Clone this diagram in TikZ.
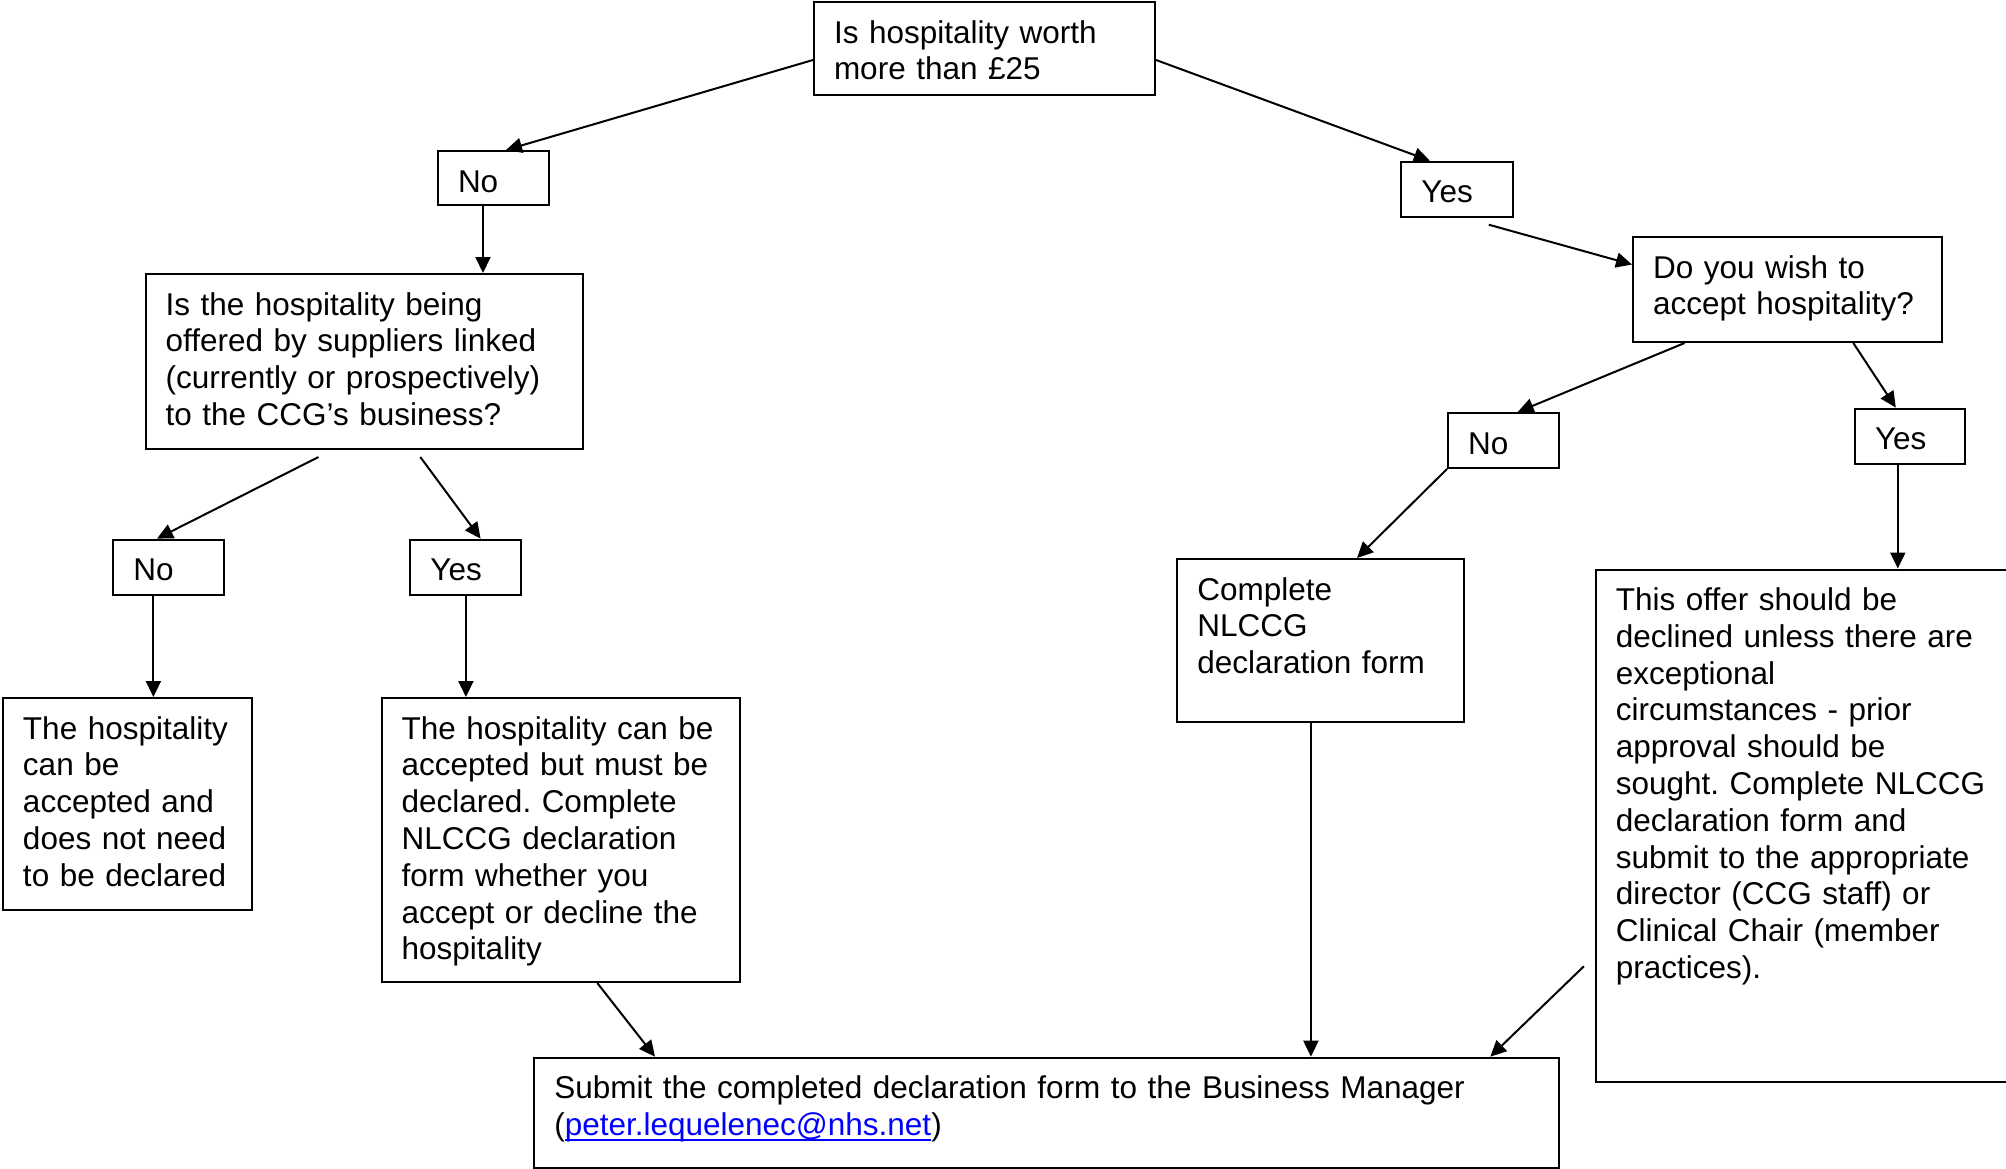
\documentclass[tikz,border=0pt]{standalone}
\usepackage{fontspec}
\setmainfont{Liberation Sans}
\usetikzlibrary{arrows.meta}

\definecolor{linkblue}{RGB}{0,0,255}
\newcommand{\maillink}[1]{{\color{linkblue}\setbox0\hbox{#1}%
  \rlap{\rule[-5.5pt]{\wd0}{2pt}}\box0}}
\hyphenpenalty=10000 \exhyphenpenalty=10000

\tikzset{
  box/.style 2 args={draw, line width=2pt, anchor=north west, align=left,
    inner xsep=20pt, inner ysep=0pt, text width=#1pt-40pt,
    text height=41pt, text depth=#2pt-41pt},
  arr/.style={line width=2pt, -{Triangle[length=16pt,width=15pt]}}
}

\begin{document}
\begin{tikzpicture}[x=1pt, y=-1pt, font=\fontsize{31.5}{36.8}\selectfont\frenchspacing]
  \useasboundingbox (0,0) rectangle (2006,1168);
  % questions
  \node[box={341}{93}]  (q1) at (813,1)     {Is hospitality worth\\more than £25};
  \node[box={437}{175}] (q2) at (144.6,273) {Is the hospitality being\\offered by suppliers linked\\(currently or prospectively)\\to the CCG’s business?};
  \node[box={309}{105}] (q3) at (1632,236)  {Do you wish to\\accept hospitality?};
  % answers
  \node[box={111}{54}] (noA)  at (437,150)      {No};
  \node[box={112}{55}] (yesA) at (1400.4,160.7) {Yes};
  \node[box={111}{55}] (noB)  at (112.3,538.6)  {No};
  \node[box={111}{55}] (yesB) at (409.4,538.6)  {Yes};
  \node[box={111}{55}] (noC)  at (1447,412)     {No};
  \node[box={110}{55}] (yesC) at (1854,407.6)   {Yes};
  % outcomes
  \node[box={249}{212}]   (free)    at (2,697)       {The hospitality\\can be\\accepted and\\does not need\\to be declared};
  \node[box={358}{284}]   (declare) at (380.7,697)   {The hospitality can be\\accepted but must be\\declared. Complete\\NLCCG declaration\\form whether you\\accept or decline the\\hospitality};
  \node[box={287}{163}]   (form)    at (1176.4,558)  {Complete\\NLCCG\\declaration form};
  \node[box={414}{512.5}] (decline) at (1594.8,568.5) {This offer should be\\declined unless there are\\exceptional\\circumstances - prior\\approval should be\\sought. Complete NLCCG\\declaration form and\\submit to the appropriate\\director (CCG staff) or\\Clinical Chair (member\\practices).};
  \node[box={1024.4}{110.5}] (submit) at (533.3,1056.7) {Submit the completed declaration form to the Business Manager\\(\maillink{peter.lequelenec@nhs.net})};
  % connectors
  \draw[arr] ([yshift=-11.5pt]q1.west) -- ([xshift=12.5pt]noA.north);
  \draw[arr] ([yshift=-11.5pt]q1.east) -- ([xshift=-27.6pt]yesA.north);
  \draw[arr] ([xshift=-10.5pt]noA.south) -- ([xshift=-10.5pt]noA.south |- q2.north);
  \draw[arr] ([xshift=-45.6pt,yshift=-7pt]q2.south) -- ([xshift=-11.8pt]noB.north);
  \draw[arr] ([xshift=56.2pt,yshift=-7pt]q2.south) -- ([xshift=14.7pt]yesB.north);
  \draw[arr] ([xshift=-15.4pt]noB.south) -- ([xshift=-15.4pt]noB.south |- free.north);
  \draw[arr] (yesB.south) -- (yesB.south |- declare.north);
  \draw[arr] ([xshift=36.6pt]declare.south) -- ([xshift=121.7pt]submit.north west);
  \draw[arr] ([xshift=31.4pt,yshift=-7pt]yesA.south) -- ([yshift=25pt]q3.west);
  \draw[arr] ([xshift=52.6pt]q3.south west) -- ([xshift=14.2pt]noC.north);
  \draw[arr] ([xshift=221.3pt]q3.south west) -- ([xshift=-14.2pt]yesC.north);
  \draw[arr] (noC.south west) -- ([xshift=36.1pt]form.north);
  \draw[arr] ([xshift=-12.2pt]yesC.south) -- ([xshift=-12.2pt]yesC.south |- decline.north);
  \draw[arr] ([xshift=-10pt]form.south) -- ([xshift=-10pt]form.south |- submit.north);
  \draw[arr] ([xshift=-10.9pt,yshift=-140.5pt]decline.west) -- ([xshift=-69.4pt]submit.north east);
\end{tikzpicture}
\end{document}
